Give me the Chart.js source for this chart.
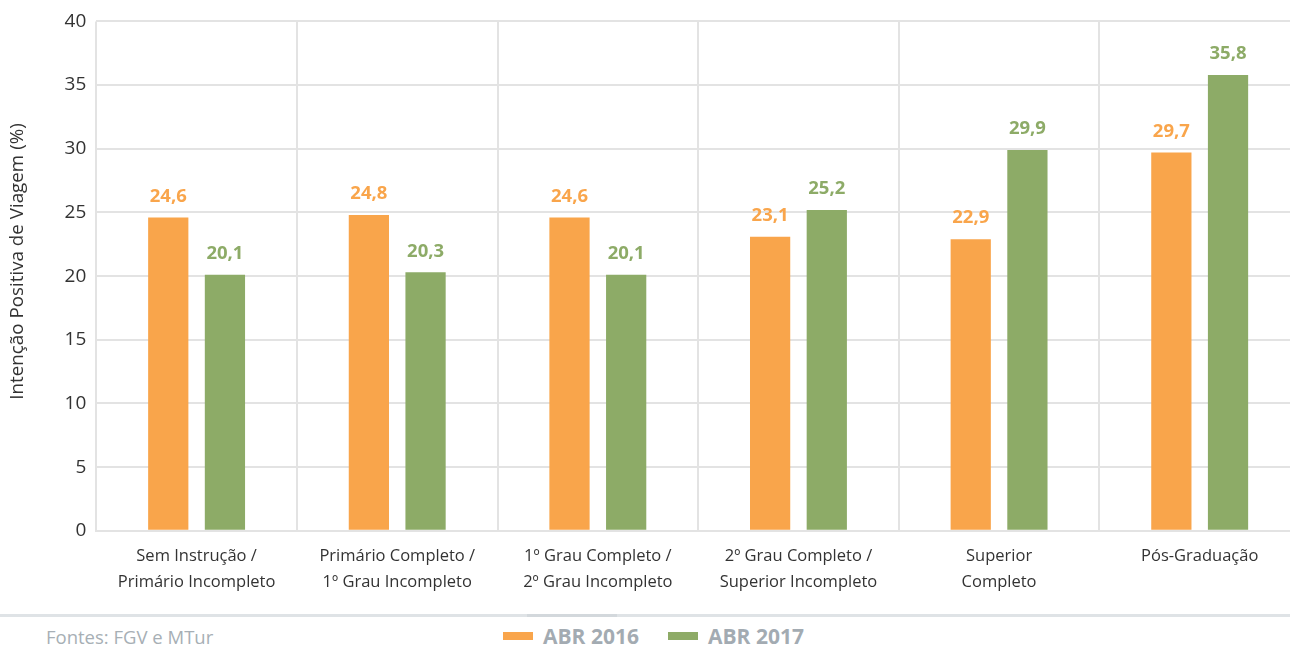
<!DOCTYPE html>
<html>
<head>
<meta charset="utf-8">
<script src="https://cdn.jsdelivr.net/npm/chart.js@4"></script>
<style>
  html, body { margin: 0; padding: 0; background: #fff; overflow: hidden; }
  body { width: 1290px; height: 651px; position: relative; font-family: "Open Sans", sans-serif; }
  #wrap { position: absolute; left: 0; top: 0; width: 1300px; height: 607px; }
  #sep { position: absolute; left: 0; top: 614px; width: 1290px; height: 3px; background: #dfe3e6; }
  #sep2 { position: absolute; left: 527px; top: 614px; width: 90px; height: 3px; background: #d3d8dc; }
  #src { position: absolute; left: 46px; top: 624px; font-size: 18.5px; color: #a7afb5; }
  .leg { position: absolute; top: 622px; font-size: 21px; font-weight: bold; color: #a3abb2; }
  .sw { display: inline-block; width: 30px; height: 8px; vertical-align: middle; margin-right: 10px; position: relative; top: -2px; }
</style>
</head>
<body>
<div id="wrap"><canvas id="chart"></canvas></div>
<div id="sep"></div><div id="sep2"></div>
<div id="src">Fontes: FGV e MTur</div>
<div class="leg" style="left:503px"><span class="sw" style="background:#f9a54b"></span>ABR 2016</div>
<div class="leg" style="left:668px"><span class="sw" style="background:#8eab67"></span>ABR 2017</div>
<script>
const categories = [
    ["Sem Instrução /", "Primário Incompleto"],
    ["Primário Completo /", "1º Grau Incompleto"],
    ["1º Grau Completo /", "2º Grau Incompleto"],
    ["2º Grau Completo /", "Superior Incompleto"],
    ["Superior", "Completo"],
    ["Pós-Graduação"]
]
const abr2016 = [24.6, 24.8, 24.6, 23.1, 22.9, 29.7]
const abr2017 = [20.1, 20.3, 20.1, 25.2, 29.9, 35.8]
const yTicks = [0, 5, 10, 15, 20, 25, 30, 35, 40]

const orange = '#f9a54b'
const green = '#8dab67'

// labels above each bar, comma decimal
const valueLabels = {
    id: 'valueLabels',
    afterDatasetsDraw(chart) {
        const ctx = chart.ctx
        ctx.save()
        ctx.font = 'bold 18.5px "Open Sans"'
        ctx.textAlign = 'center'
        ctx.textBaseline = 'middle'
        chart.data.datasets.forEach((ds, di) => {
            const meta = chart.getDatasetMeta(di)
            ctx.fillStyle = ds.backgroundColor
            meta.data.forEach((bar, i) => {
                ctx.fillText(ds.data[i].toFixed(1).replace('.', ','), bar.x, bar.y - 21)
            })
        })
        ctx.restore()
    }
}

const ctx = document.getElementById('chart')
const chart = new Chart(ctx, {
    type: 'bar',
    data: {
        labels: categories,
        datasets: [
            {label: 'ABR 2016', data: abr2016, backgroundColor: orange},
            {label: 'ABR 2017', data: abr2017, backgroundColor: green}
        ]
    },
    options: {
        animation: false,
        responsive: true,
        maintainAspectRatio: false,
        categoryPercentage: 0.565,
        barPercentage: 0.71,
        layout: {padding: {top: 12, left: 0, right: 0, bottom: 0}},
        plugins: {
            legend: {display: false},
            tooltip: {enabled: false}
        },
        scales: {
            x: {
                grid: {color: '#e3e3e3', lineWidth: 2, offset: true, drawTicks: false},
                border: {color: '#e3e3e3', width: 2},
                ticks: {color: '#333', font: {family: 'Open Sans', size: 16.5, lineHeight: 1.58}, padding: 12, maxRotation: 0}
            },
            y: {
                min: 0,
                max: 40,
                afterBuildTicks: (axis) => { axis.ticks = yTicks.map(v => ({value: v})) },
                grid: {color: '#e3e3e3', lineWidth: 2, drawTicks: false},
                border: {display: false},
                ticks: {color: '#333', font: {family: 'Open Sans', size: 19}, padding: 10},
                title: {
                    display: true,
                    // leading spaces nudge the rotated title up a bit
                    text: '      Intenção Positiva de Viagem (%)',
                    color: '#333',
                    font: {family: 'Open Sans', size: 18.8},
                    padding: {top: 6, bottom: 26}
                }
            }
        }
    },
    plugins: [valueLabels]
})
</script>
</body>
</html>
